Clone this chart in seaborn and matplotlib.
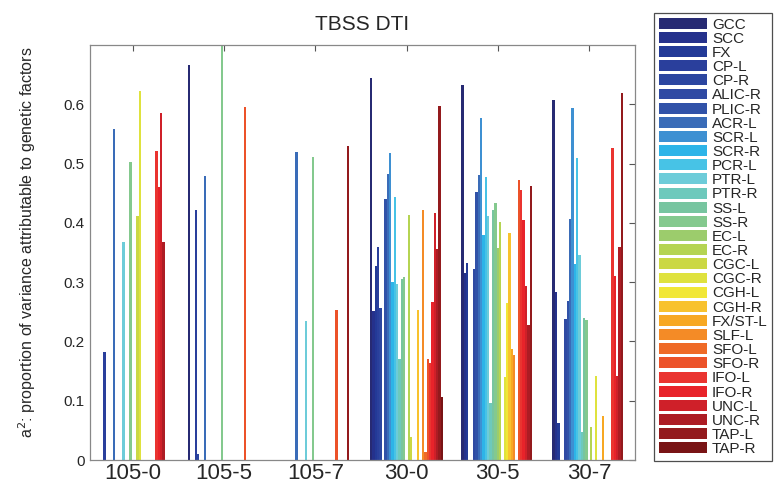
import matplotlib
matplotlib.use("Agg")
import matplotlib.pyplot as plt
import seaborn as sns
import pandas as pd

groups = ["105-0", "105-5", "105-7", "30-0", "30-5", "30-7"]
tracts = ["GCC", "SCC", "FX", "CP-L", "CP-R", "ALIC-R", "PLIC-R", "ACR-L", "SCR-L", "SCR-R",
          "PCR-L", "PTR-L", "PTR-R", "SS-L", "SS-R", "EC-L", "EC-R", "CGC-L", "CGC-R", "CGH-L",
          "CGH-R", "FX/ST-L", "SLF-L", "SFO-L", "SFO-R", "IFO-L", "IFO-R", "UNC-L", "UNC-R",
          "TAP-L", "TAP-R"]

v_105_0 = [0, 0, 0, 0.183, 0, 0, 0, 0.559, 0, 0, 0, 0.368, 0, 0, 0.503, 0, 0, 0.412, 0.622, 0,
           0, 0, 0, 0, 0, 0.521, 0.461, 0.586, 0.367, 0, 0]
v_105_5 = [0.666, 0, 0, 0.422, 0.010, 0, 0, 0.479, 0, 0, 0, 0, 0, 0, 0.72, 0, 0, 0, 0, 0,
           0, 0, 0, 0, 0.596, 0, 0, 0, 0, 0, 0]
v_105_7 = [0, 0, 0, 0, 0, 0, 0, 0.520, 0, 0, 0, 0.234, 0, 0, 0.511, 0, 0, 0, 0, 0,
           0, 0, 0, 0, 0.253, 0, 0, 0, 0, 0.529, 0]
v_30_0 = [0.645, 0.251, 0.328, 0.360, 0.256, 0, 0.441, 0.483, 0.517, 0.300, 0.444, 0.297, 0.170,
          0.305, 0.308, 0, 0.414, 0.039, 0, 0, 0.253, 0, 0.422, 0.014, 0.171, 0.164, 0.267,
          0.417, 0.356, 0.597, 0.107]
v_30_5 = [0.632, 0.315, 0.332, 0, 0, 0.322, 0.452, 0.481, 0.577, 0.379, 0.477, 0.411, 0.096,
          0.421, 0.434, 0.358, 0.401, 0, 0.140, 0.265, 0.383, 0.188, 0.177, 0, 0.473, 0.456,
          0.404, 0.293, 0.227, 0.463, 0]
v_30_7 = [0.608, 0.283, 0.062, 0, 0, 0.238, 0.269, 0.406, 0.594, 0.331, 0.510, 0.346, 0.047,
          0.240, 0.236, 0, 0.055, 0, 0.142, 0, 0, 0.075, 0, 0, 0, 0.526, 0.310, 0.141, 0.359,
          0.619, 0]

colors = ["#272a73", "#25318c", "#233a97", "#2a3f9c", "#2c46a0", "#2f4aa3", "#3152a8", "#3a6cb8",
          "#3e90d2", "#2db4e8", "#47c3e6", "#6dccd9", "#6dc9bc", "#77c5a0", "#84c98e", "#9ccc6c",
          "#b5d452", "#cbd844", "#dfe23e", "#f1e736", "#f8c22e", "#f7a823", "#f48b26", "#ef6a27",
          "#ec5229", "#ea3430", "#e8232a", "#cf2029", "#ad1c24", "#931a1d", "#791415"]

values = [v_105_0, v_105_5, v_105_7, v_30_0, v_30_5, v_30_7]
rows = []
for g, vals in zip(groups, values):
    for t, v in zip(tracts, vals):
        rows.append({"group": g, "tract": t, "value": v})
df = pd.DataFrame(rows)

sns.set_style("white")
plt.rcParams["font.family"] = ["Liberation Sans", "DejaVu Sans"]

fig = plt.figure(figsize=(7.77, 4.91), dpi=100)
ax = fig.add_axes([90 / 777, 1 - 460 / 491, (635 - 90) / 777, (460 - 45) / 491])

sns.barplot(data=df, x="group", y="value", hue="tract", order=groups, hue_order=tracts,
            palette=colors, saturation=1, errorbar=None, width=0.8, linewidth=0, ax=ax)

handles, labels = ax.get_legend_handles_labels()
if ax.get_legend() is not None:
    ax.get_legend().remove()

ax.set_xlim(-0.47, 5.505)
ax.set_ylim(0, 0.7)
ax.set_yticks([0, 0.1, 0.2, 0.3, 0.4, 0.5, 0.6])
ax.set_yticklabels(["0", "0.1", "0.2", "0.3", "0.4", "0.5", "0.6"])
ax.tick_params(axis="both", direction="in", top=True, right=True, length=4, width=0.8,
               color="#555555", pad=4)
ax.tick_params(axis="y", labelsize=11)
ax.tick_params(axis="x", labelsize=16, pad=2)
ax.set_xlabel("")
ax.set_ylabel("a$^2$: proportion of variance attributable to genetic factors", fontsize=11.5)
ax.yaxis.set_label_coords(-0.095, 0.525)
ax.set_title("TBSS DTI", fontsize=15, pad=11)
for s in ax.spines.values():
    s.set_color("#888888")
    s.set_linewidth(0.9)

leg = fig.legend(handles, labels, loc="upper left", bbox_to_anchor=(654 / 777, 1 - 13 / 491),
                 frameon=True, fancybox=False, edgecolor="#222222", fontsize=11,
                 handlelength=3.15, handleheight=0.72, labelspacing=0.01, handletextpad=0.35,
                 borderpad=0.3, borderaxespad=0)
leg.get_frame().set_linewidth(0.9)

fig.savefig("out.png", dpi=100)
